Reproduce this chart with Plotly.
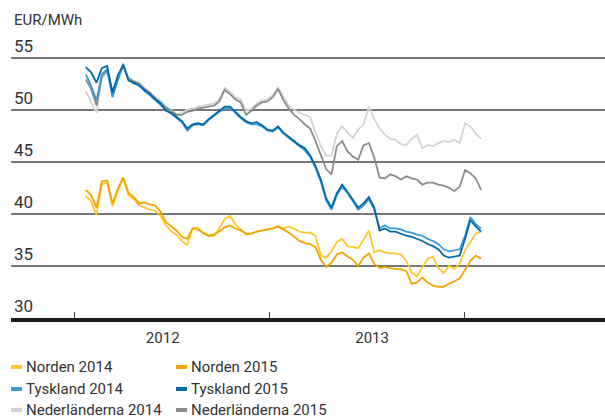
import plotly.graph_objects as go
import pandas as pd

# ---- data (EUR/MWh), one value every 10 days from 2012-01-23 ----
dates = pd.date_range("2012-01-23", periods=75, freq="10D")

norden_2014 = [41.7, 41.2, 39.9, 42.8, 43.0, 40.7, 42.2, 43.4, 41.8, 41.4,
               40.8, 40.6, 40.4, 40.3, 39.8, 38.9, 38.3, 38.0, 37.4, 37.0,
               38.6, 38.7, 38.1, 37.9, 37.9, 38.6, 39.5, 39.8, 39.0, 38.5,
               38.0, 38.1, 38.3, 38.4, 38.5, 38.6, 38.8, 38.6, 38.8, 38.6,
               38.3, 38.2, 38.2, 37.9, 36.0, 35.8, 36.4, 37.3, 37.6, 36.9,
               36.8, 36.7, 37.5, 38.4, 36.3, 36.5, 36.3, 36.2, 36.2, 36.1,
               35.5, 34.4, 34.0, 34.9, 35.7, 35.9, 34.8, 34.3, 35.0, 34.7,
               35.2, 36.5, 37.3, 38.1, 38.3]
norden_2015 = [42.3, 41.8, 40.6, 43.1, 43.2, 41.0, 42.4, 43.5, 42.0, 41.6,
               41.0, 41.1, 40.9, 40.8, 40.2, 39.2, 38.8, 38.4, 37.8, 37.6,
               38.6, 38.5, 38.2, 37.9, 38.0, 38.3, 38.7, 38.9, 38.6, 38.4,
               38.1, 38.1, 38.3, 38.4, 38.5, 38.6, 38.8, 38.5, 38.2, 37.8,
               37.4, 37.2, 37.1, 36.8, 35.6, 34.9, 35.3, 36.1, 36.3, 35.9,
               35.6, 35.0, 35.8, 36.2, 35.2, 34.8, 34.9, 34.8, 34.7, 34.7,
               34.5, 33.3, 33.4, 33.9, 33.4, 33.1, 33.0, 33.0, 33.3, 33.5,
               33.8, 34.6, 35.5, 36.0, 35.7]
tyskland_2014 = [53.4, 52.3, 50.9, 53.4, 53.9, 51.2, 52.8, 54.4, 52.9, 52.5,
                 52.4, 51.8, 51.4, 50.9, 50.5, 50.0, 49.6, 49.2, 48.8, 48.0,
                 48.5, 48.6, 48.5, 49.0, 49.4, 49.8, 50.1, 50.2, 49.7, 49.2,
                 48.8, 48.6, 48.6, 48.4, 48.0, 47.9, 48.3, 47.7, 47.3, 46.9,
                 46.5, 46.1, 45.5, 44.4, 43.1, 41.3, 40.4, 41.8, 42.6, 42.0,
                 41.2, 40.4, 40.8, 41.4, 40.4, 38.6, 38.9, 38.6, 38.6, 38.5,
                 38.3, 38.2, 38.0, 37.9, 37.6, 37.4, 37.1, 36.6, 36.4, 36.5,
                 36.6, 37.9, 39.7, 39.0, 38.6]
tyskland_2015 = [54.1, 53.6, 52.6, 54.0, 54.2, 51.6, 53.3, 54.3, 52.8, 52.6,
                 52.3, 51.9, 51.5, 51.0, 50.6, 49.9, 49.7, 49.3, 48.9, 48.2,
                 48.6, 48.7, 48.6, 49.1, 49.5, 49.9, 50.3, 50.3, 49.8, 49.3,
                 48.9, 48.7, 48.8, 48.5, 48.1, 48.0, 48.4, 47.8, 47.4, 47.0,
                 46.6, 46.3, 45.6, 44.6, 43.3, 41.5, 40.6, 42.0, 42.8, 42.1,
                 41.4, 40.6, 41.0, 41.6, 40.6, 38.4, 38.6, 38.3, 38.3, 38.1,
                 37.9, 37.8, 37.6, 37.4, 37.1, 36.9, 36.6, 36.0, 35.8, 35.9,
                 36.0, 37.6, 39.4, 38.8, 38.3]
nederlanderna_2014 = [51.8, 50.8, 49.7, 53.0, 53.6, 51.5, 52.9, 54.3, 53.1, 52.8,
                      52.6, 52.1, 51.7, 51.2, 50.9, 50.3, 50.0, 49.6, 49.7, 50.0,
                      50.1, 50.3, 50.4, 50.5, 50.6, 51.0, 52.1, 51.7, 51.2, 51.0,
                      49.9, 50.1, 50.6, 50.9, 51.0, 51.4, 52.2, 51.2, 50.4, 50.0,
                      49.7, 49.5, 49.3, 47.8, 46.5, 45.6, 45.6, 47.7, 48.4, 47.8,
                      47.3, 48.1, 48.6, 50.3, 49.1, 48.2, 47.6, 47.2, 47.1, 46.7,
                      46.6, 47.2, 47.6, 46.3, 46.6, 46.5, 46.8, 47.0, 46.9, 47.1,
                      46.8, 48.7, 48.4, 47.7, 47.2]
nederlanderna_2015 = [52.9, 52.0, 50.4, 53.2, 53.8, 51.8, 53.0, 54.2, 53.0, 52.7,
                      52.5, 52.0, 51.6, 51.1, 50.7, 50.2, 49.9, 49.5, 49.5, 49.8,
                      49.9, 50.1, 50.2, 50.3, 50.4, 50.8, 51.9, 51.5, 51.0, 50.7,
                      49.5, 49.9, 50.4, 50.7, 50.8, 51.2, 52.0, 50.9, 50.1, 49.5,
                      49.1, 48.6, 48.2, 47.0, 45.6, 44.3, 43.8, 46.5, 47.0, 46.0,
                      45.5, 45.2, 46.6, 46.8, 45.4, 43.5, 43.4, 43.8, 43.6, 43.3,
                      43.6, 43.4, 43.3, 42.8, 43.0, 43.0, 42.8, 42.7, 42.5, 42.2,
                      42.6, 44.2, 43.9, 43.4, 42.3]

series_names = ["Norden 2014", "Norden 2015", "Tyskland 2014",
                "Tyskland 2015", "Nederländerna 2014", "Nederländerna 2015"]
series_values = [norden_2014, norden_2015, tyskland_2014,
                 tyskland_2015, nederlanderna_2014, nederlanderna_2015]
series_colors = ["#FFC72C", "#F2A500", "#3A9AD9",
                 "#0069AA", "#D3D3D3", "#8C8C8C"]

y_ticks = [30, 35, 40, 45, 50, 55]
year_ticks = ["2012-01-01", "2013-01-01", "2014-01-01"]
year_label_pos = ["2012-06-15", "2013-07-12"]
year_labels = ["2012", "2013"]
unit_label = "EUR/MWh"

# ---- figure ----
FONT = "Roboto, 'Open Sans', sans-serif"
TEXT = "#333333"

fig = go.Figure()
draw_order = [4, 5, 0, 1, 2, 3]
for i in draw_order:
    fig.add_trace(go.Scatter(
        x=dates, y=series_values[i], mode="lines", name=series_names[i],
        line=dict(color=series_colors[i], width=1.8), showlegend=False,
        hoverinfo="skip"))

TOP, BOT = 16, 102
PH = 420 - TOP - BOT          # plot height in px
PW = 605 - 11                 # plot width in px


def py(px):                   # page pixel row -> paper y
    return (420 - BOT - px) / PH


def pxx(px):                  # page pixel column -> paper x
    return (px - 11) / PW


fig.update_layout(
    width=605, height=420,
    margin=dict(l=11, r=0, t=TOP, b=BOT),
    paper_bgcolor="white", plot_bgcolor="white",
    font=dict(family=FONT, color=TEXT),
    showlegend=False,
)
fig.update_yaxes(
    range=[30, 59], tickvals=y_ticks, ticks="",
    ticklabelposition="inside top", tickfont=dict(size=17, color=TEXT),
    showgrid=True, gridcolor="#777777", gridwidth=2,
    zeroline=False, showline=False, fixedrange=True,
)
fig.update_xaxes(
    type="date", range=["2011-09-05", "2014-09-21"],
    tickvals=year_label_pos, ticktext=year_labels, ticks="",
    ticklabelstandoff=3,
    tickfont=dict(size=15, color=TEXT),
    showgrid=False, zeroline=False, fixedrange=True,
    showline=True, linecolor="#1c1c1c", linewidth=4,
    minor=dict(tickvals=year_ticks, ticks="inside", ticklen=6,
               tickwidth=1, tickcolor="#444444", showgrid=False),
)

# unit label
fig.add_annotation(text=unit_label, xref="paper", yref="paper",
                   x=pxx(12), y=py(20),
                   xanchor="left", yanchor="middle", showarrow=False,
                   font=dict(size=15, color=TEXT))

# legend (2 columns x 3 rows)
col_key_px = [11, 176]
row_px = [367, 389, 410]
for idx, name in enumerate(series_names):
    col, row = idx % 2, idx // 2
    ky = py(row_px[row])
    fig.add_shape(type="line", xref="paper", yref="paper",
                  x0=pxx(col_key_px[col]), x1=pxx(col_key_px[col] + 11),
                  y0=ky, y1=ky,
                  line=dict(color=series_colors[idx], width=4))
    fig.add_annotation(text=name, xref="paper", yref="paper",
                       x=pxx(col_key_px[col] + 13), y=ky,
                       xanchor="left", yanchor="middle", showarrow=False,
                       font=dict(size=15, color=TEXT))

fig.write_html("out.html",
               config={"displayModeBar": False},
               post_script="document.body.style.margin='0';"
                           "document.body.style.overflow='hidden';")
